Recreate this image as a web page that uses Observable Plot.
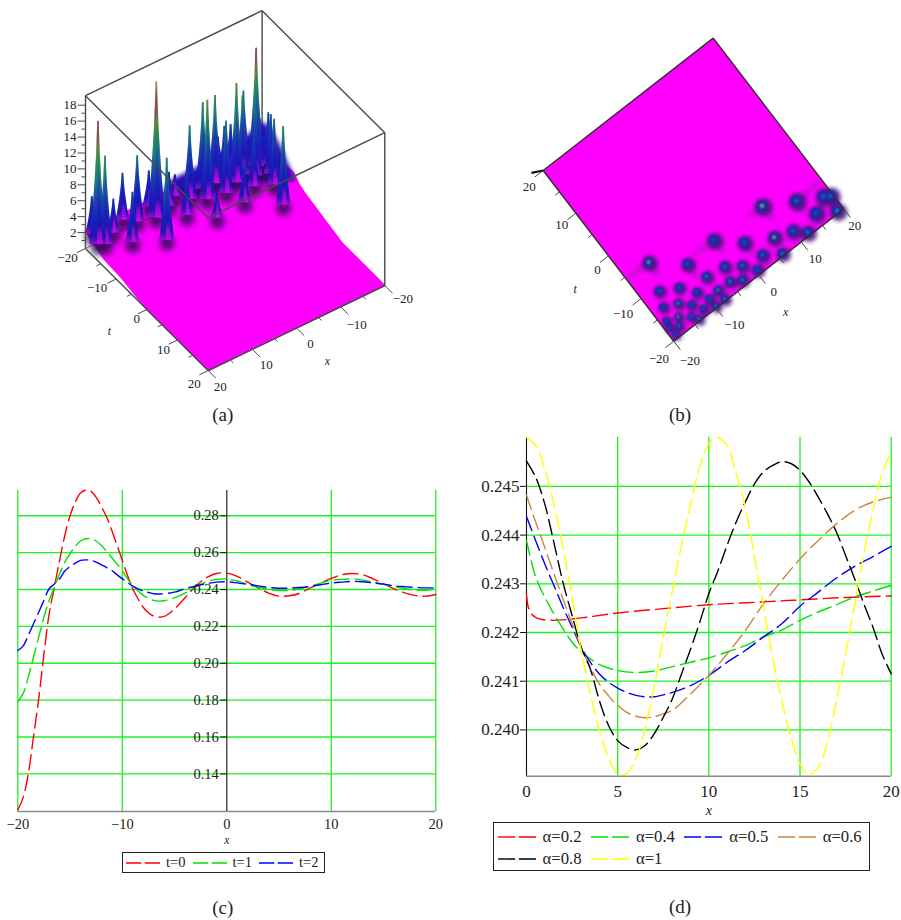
<!DOCTYPE html>
<html><head><meta charset="utf-8">
<script src="https://cdn.jsdelivr.net/npm/d3@7"></script>
<script src="https://cdn.jsdelivr.net/npm/@observablehq/plot@0.6"></script>
<style>
html,body{margin:0;background:#fff}
#page{position:relative;width:901px;height:920px;overflow:hidden;font-family:"Liberation Serif",serif;color:#222}
.fig{position:absolute}
.fig svg{display:block;background:transparent}
.cap{position:absolute;font-size:19px;transform:translateX(-50%)}
.legend{position:absolute;border:1px solid #222;box-sizing:border-box;background:#fff}
.legend .it{position:absolute;display:flex;align-items:center;height:18px}
.legend svg{display:block}
</style></head><body><div id="page"></div>
<script>
// ---------- panel (a)/(b): soliton peaks read from the top view and the 3D view
const peakX=[-14.8,-9.3,-2.7,1.5,8.3,13.9,19.5,18.4,6.5,15.4,10,18.8,12,5.9,2.8,-1.4,0.35,-4.1,-7.9,-13.2,-16.5,-11.1,-7.7,-5,-3,-17.7,-15.1,-13.3,-12,-10,-9.85,-7.7,-16.6,-18.8,-17.5,-14.7,-13.8,-19,-19.1];
const peakT=[-5.5,-10.2,-9.7,-13.5,-10.2,-13.35,-16.5,-15.8,-16.2,-17.4,-17.4,-19.5,-19.3,-19.5,-17.4,-16.7,-19,-14.8,-14.2,-12.7,-10.9,-15.4,-17.5,-17.6,-18.8,-13.7,-14.9,-16.6,-18.6,-17.8,-19.6,-19.6,-16.9,-16.1,-18.3,-18.3,-19.6,-19.2,-17.4];
const peakZ=[11.4,6.7,4.8,7,11.7,7.8,17,12.5,18.6,5.8,9.8,6.3,7.5,6,5.8,10.7,4.3,13.9,10.6,7.5,9.8,14,12.6,12.4,6,9,10,11.4,7.5,8,6,6,16.3,8,7,10.9,7,6,5];
// colour seen at each peak's core in the top view (same unit as height)
const peakCore=[11,5,4,5,12,6,6,6,11,5,6,8,7,7,6,7,5,6,7,5,5,5,9,8,8,5,9,6,6,6,8,8,15,6,8,7,9,7,6];
const rimX=[20,20,20,20,20,20,-20,-20,-20,-20,-20,-20,-20,-20,-20];
const rimT=[-20,-14,-8,0,20,20,20,6,3,0,-3,-6,-8,-9.8,-20];
const rimZ=[2.2,1,0.8,0,0,0,0,0,0.4,0.8,1.2,1.6,2,2.8,2.5];
// blue mass behind the peaks near the far corner
const ridgeX=[3,0,-5,-9.5,-14.8,-20,-20,-20,-20,-20,-14,-8,-2];
const ridgeT=[-20,-20,-20,-20,-20,-20,-17,-14,-11,-9,-13,-15,-17];
const ridgeZ=[2.2,3.5,3.5,3.9,4.1,5.3,5.5,4.5,3,2,2,2,2];
const axis3dTicks=[-20,-15,-10,-5,0,5,10,15,20];
const zTicks=d3.range(1,19);
const zLabels=[2,4,6,8,10,12,14,16,18];
const ZTOP=19.2, ZBASE=1.7;

// ---------- panel (c)
const cX=[-20,-19.5,-19,-18.5,-18,-17.5,-17,-16.5,-16,-15.5,-15,-14.5,-14,-13.5,-13,-12.5,-12,-11.5,-11,-10.5,-10,-9.5,-9,-8.5,-8,-7.5,-7,-6.5,-6,-5,-4,-3,-2,-1,0,1,2,3,4,5,6,7,8,9,10,11,12,13,14,15,16,17,18,19,20];
const cT0=[.1205,.127,.14,.16,.1807,.205,.2268,.2413,.2558,.2693,.28,.2874,.2923,.2939,.2932,.29,.285,.2793,.272,.2639,.2558,.2476,.2404,.235,.2304,.2274,.2256,.225,.2254,.2295,.2355,.2417,.2462,.2487,.2489,.2471,.244,.2409,.238,.2364,.2366,.238,.2409,.2435,.246,.248,.2487,.248,.2458,.2431,.2404,.2382,.2368,.2364,.2373];
const cT1=[.1792,.1834,.1925,.2033,.2142,.225,.2341,.2413,.2485,.2549,.2594,.2634,.2663,.2675,.2675,.2663,.2639,.2608,.2572,.2538,.2503,.2458,.2422,.2393,.2368,.2353,.2341,.2337,.2339,.2355,.238,.2413,.244,.2455,.2457,.2446,.2428,.2413,.2402,.2395,.2395,.2404,.2418,.2435,.2449,.2455,.2457,.2451,.244,.2428,.2417,.2404,.2398,.2396,.2402];
const cT2=[.2069,.2093,.2151,.2214,.2277,.2341,.2404,.243,.2458,.25,.2525,.2543,.2558,.2561,.2558,.2549,.2534,.2519,.2503,.248,.2458,.2438,.2418,.2404,.2391,.2384,.2377,.2376,.2377,.2386,.2404,.2418,.2431,.244,.2442,.2436,.2428,.242,.2411,.2407,.2407,.2411,.2417,.2426,.2435,.244,.2444,.2442,.2436,.2429,.242,.2415,.2411,.2409,.2409];
const cYTicks=[.14,.16,.18,.2,.22,.24,.26,.28];
const cXTicks=[-20,-10,0,10,20];
const cNames=["t=0","t=1","t=2"];
const cColors=["#ff0000","#00e000","#0000ff"];

// ---------- panel (d)
const dA2=[[0,.24279],[.1,.24252],[.3,.24237],[.6,.24229],[1,.24226],[1.5,.24225],[2,.24226],[3,.2423],[5,.2424],[7.5,.24249],[10,.24257],[12.5,.24262],[15,.24267],[17.5,.24272],[20,.24275]];
const dA4=[[0,.24389],[.5,.24314],[1,.24273],[1.5,.24238],[2,.24208],[2.5,.2418],[3,.2416],[3.5,.24146],[4,.24134],[5,.24122],[6,.24118],[7,.24121],[8,.2413],[9,.24139],[10,.24148],[11,.2416],[12,.24173],[13,.24191],[14,.24205],[15,.24225],[16,.24242],[17,.24257],[18,.24273],[19,.24285],[20,.24297]];
const dA5=[[0,.24438],[.5,.24389],[1,.24341],[1.5,.24297],[2,.24252],[2.5,.24211],[3,.2417],[3.5,.24139],[4,.24115],[4.5,.24098],[5,.24086],[5.5,.24077],[6,.24071],[6.5,.24068],[7,.24068],[7.5,.24072],[8,.24077],[9,.24091],[10,.24112],[11,.24139],[12,.24163],[13,.24191],[14,.24218],[15,.24254],[16,.24283],[17,.24312],[18,.24336],[19,.24356],[20,.24377]];
const dA6=[[0,.24482],[.5,.24427],[1,.24375],[1.5,.24321],[2,.24269],[2.5,.24218],[3,.2417],[3.5,.24129],[4,.24094],[4.5,.2407],[5,.2405],[5.5,.24036],[6,.24028],[6.5,.24025],[7,.24027],[7.5,.24033],[8,.2404],[9,.24074],[10,.24112],[11,.24156],[12,.24204],[13,.24259],[14,.24307],[15,.24351],[16,.24389],[17,.24423],[18,.24451],[19,.24468],[20,.24478]];
const dA8=[[0,.24552],[.5,.24519],[1,.24464],[1.5,.24385],[2,.24303],[2.5,.24235],[3,.2417],[3.5,.24125],[4,.2406],[4.5,.24009],[5,.23978],[5.5,.23964],[6,.23959],[6.5,.23968],[7,.23992],[7.5,.24026],[8,.24064],[8.5,.24115],[9,.24166],[9.5,.24221],[10,.2428],[10.5,.24327],[11,.24379],[11.5,.24427],[12,.24468],[12.5,.24505],[13,.2453],[13.5,.24543],[14,.24551],[14.5,.24547],[15,.24533],[15.5,.24509],[16,.24478],[16.5,.24444],[17,.24406],[17.5,.24358],[18,.2431],[18.5,.24259],[19,.24211],[19.5,.24156],[20,.24115]];
const dA10=[[0,.24601],[.5,.24584],[1,.24536],[1.5,.24464],[2,.24375],[2.5,.24273],[3,.24163],[3.5,.24074],[4,.23999],[4.5,.23944],[5,.2391],[5.5,.23911],[6,.23941],[6.5,.24002],[7,.24088],[7.5,.2419],[8,.24286],[8.5,.24379],[9,.24464],[9.5,.2454],[10,.24588],[10.4,.24601],[11,.24584],[11.5,.24526],[12,.24458],[12.5,.24355],[13,.24252],[13.5,.24149],[14,.2406],[14.5,.23985],[15,.2393],[15.5,.23908],[16,.23923],[16.5,.23975],[17,.2406],[17.5,.24156],[18,.24259],[18.5,.24362],[19,.24451],[19.5,.24526],[20,.24571]];
const dYTicks=[.24,.241,.242,.243,.244,.245];
const dXTicks=[0,5,10,15,20];
const dNames=["α=0.2","α=0.4","α=0.5","α=0.6","α=0.8","α=1"];
const dColors=["#ff0000","#00e000","#0000ff","#cd853f","#000000","#ffff00"];

const GRID="#20f020", FONT='"Liberation Serif",serif', DASH="15,6";
const minus=s=>String(s).replace("-","\u2212");
const page=document.getElementById("page");
function place(node,left,top){const d=document.createElement("div");d.className="fig";d.style.left=left+"px";d.style.top=top+"px";d.append(node);page.append(d);return node;}
function frame(w,h,marks,extra={}){return Plot.plot({width:w,height:h,margin:0,x:{domain:[0,w],range:[0,w],axis:null},y:{domain:[0,h],range:[0,h],axis:null},style:{fontFamily:FONT,background:"transparent",overflow:"visible"},marks,...extra});}
function blur(svg,cls,px){d3.select(svg).selectAll("."+cls).style("filter",`blur(${px}px)`);}
function seg(data,from,to,o={}){return Plot.link(data,{x1:d=>from(d)[0],y1:d=>from(d)[1],x2:d=>to(d)[0],y2:d=>to(d)[1],...o});}

const peaks=peakX.map((x,i)=>({x,t:peakT[i],z:peakZ[i],core:peakCore[i]}));

// ---------- (a) 3-D surface
const pa=(x,t,z=0)=>{const u=(t+20)/40,v=(20-x)/40;return [85+u*122.7+v*176.6,248+u*122-v*85-z*7.96];};
const rim=rimX.map((x,i)=>pa(x,rimT[i],rimZ[i]));
const ridge=ridgeX.map((x,i)=>pa(x,ridgeT[i],ridgeZ[i]));
const bands=[];
for(const p of [...peaks].sort((a,b)=>pa(a.x,a.t)[1]-pa(b.x,b.t)[1])){
  const [sx,sy]=pa(p.x,p.t);
  const wide=4+0.2*p.z;
  for(let h=ZBASE;h<p.z;h+=0.2){
    const f=(h-ZBASE)/(p.z-ZBASE);
    const w=0.9+wide*Math.pow(1-f,1.55);
    bands.push({x1:sx-w,x2:sx+w,y1:sy-(h+0.28)*7.96,y2:sy-h*7.96,h:h+0.4});
    bands.push({x1:sx-w*.12,x2:sx+w*.55,y1:sy-(h+0.28)*7.96,y2:sy-h*7.96,h:h-0.9});
  }
}
const heightColor={type:"linear",domain:[0,2,3,5,8,10,12,13.5,15.5,17.5,19],range:["#ff00ff","#9010d0","#2014b0","#1a20c0","#1a4fa0","#1f7c80","#2a8a55","#6a8a3a","#85405a","#97703f","#b8a868"],clamp:true};
const edge=(a,b)=>({a,b});
const E={lb:[20,-20,0],fb:[20,20,0],rb:[-20,20,0],bb:[-20,-20,0],lt:[20,-20,ZTOP],ft:[20,20,ZTOP],rt:[-20,20,ZTOP],bt:[-20,-20,ZTOP]};
const boxFront=[edge("lb","lt"),edge("lt","bt"),edge("bt","rt"),edge("rt","ft"),edge("ft","lt"),edge("rb","rt"),edge("lb","fb"),edge("fb","rb")];
const boxBack=[edge("bb","bt")];
const boxFaint=[edge("lb","bb")];
const paE=k=>pa(...E[k]);
const STK="#4a4a4a";
const labelsA=[
 ...[[-20,-18,9],[-10,-19,9],[0,-10,9],[10,-14,10],[20,-14,13]].map(([t,dx,dy])=>Plot.text([t],{x:t=>pa(20,t)[0],y:t=>pa(20,t)[1],text:minus,dx,dy,fontSize:13,fill:"#222"})),
 ...[[20,12,16],[10,14,16],[0,14,16],[-10,16,18],[-20,18,13]].map(([x,dx,dy])=>Plot.text([x],{x:x=>pa(x,20)[0],y:x=>pa(x,20)[1],text:minus,dx,dy,fontSize:13,fill:"#222"})),
 Plot.text(zLabels,{x:z=>pa(20,-20,z)[0],y:z=>pa(20,-20,z)[1],text:String,dx:-9,textAnchor:"end",fontSize:13,fill:"#222"}),
 Plot.text(["t"],{x:()=>pa(20,1.5)[0],y:()=>pa(20,1.5)[1],dx:-42,dy:17,fontStyle:"italic",fontSize:12,fill:"#222"}),
 Plot.text(["x"],{x:()=>pa(-2,20)[0],y:()=>pa(-2,20)[1],dx:22,dy:37,fontStyle:"italic",fontSize:12,fill:"#222"})
];
const svgA=frame(450,430,[
 seg(boxBack,e=>paE(e.a),e=>paE(e.b),{stroke:STK,strokeWidth:1.4}),
 Plot.line(rim,{x:d=>d[0],y:d=>d[1],fill:"#ff00ff",stroke:"#ff00ff",className:"sheet"}),
 seg(boxFaint,e=>paE(e.a),e=>paE(e.b),{stroke:"#5a1a6a",strokeWidth:1,strokeOpacity:.6}),
 Plot.line(ridge,{x:d=>d[0],y:d=>d[1],fill:"#2a10b0",className:"ridge"}),
 Plot.dot(peaks,{x:d=>pa(d.x,d.t,ZBASE)[0],y:d=>pa(d.x,d.t,ZBASE)[1],dy:3,r:7.5,fill:"#2c0c58",fillOpacity:.85,className:"shadow"}),
 Plot.rect(bands,{x1:"x1",x2:"x2",y1:"y1",y2:"y2",fill:"h",className:"spikes"}),
 seg(boxFront,e=>paE(e.a),e=>paE(e.b),{stroke:STK,strokeWidth:1.4}),
 seg(axis3dTicks,t=>pa(20,t),t=>pa(t%10?21:22,t),{stroke:STK,strokeWidth:1}),
 seg(axis3dTicks,x=>pa(x,20),x=>pa(x,x%10?21:22.5),{stroke:STK,strokeWidth:1}),
 seg(zTicks,z=>pa(20,-20,z),z=>{const q=pa(20,-20,z);return [q[0]-(z%2?4:8),q[1]];},{stroke:STK,strokeWidth:1}),
 ...labelsA
],{color:heightColor});
place(svgA,0,0);
blur(svgA,"shadow",3);blur(svgA,"spikes",.7);blur(svgA,"ridge",2);

// ---------- (b) top view
const pb=(x,t)=>{const a=(x+20)/40,c=(t+20)/40;return [673.3-500+a*170-c*130.6,340.7+a*(-132.4)-c*170.7];};
const sizeOf=d=>3.2+0.42*Math.min(8,(d.t+20)*0.35+(d.x+20)*0.18);
const poly=[[-20,-20],[20,-20],[20,20],[-20,20]].map(([x,t])=>pb(x,t));
const streaks=[[-19.6,-5.5,-14.8,-5.5],[8.3,-13.6,8.3,-10.2],[-14.8,-9,-14.8,-5.5],[13.9,-13.35,19.5,-13.35],[-2.7,-13,-2.7,-9.7],[-9.3,-13.5,-9.3,-10.2],[1.5,-16.5,1.5,-13.5],[5,-10.2,8.3,-10.2],[-7,-9.7,-2.7,-9.7],[13.9,-16,13.9,-13.35]];
const svgB=frame(401,430,[
 Plot.line(poly,{x:d=>d[0],y:d=>d[1],fill:"#ff00ff"}),
 seg(streaks,s=>pb(s[0],s[1]),s=>pb(s[2],s[3]),{stroke:"#a01cb4",strokeWidth:5,strokeOpacity:.6,className:"streaks"}),
 Plot.dot(peaks,{x:d=>pb(d.x,d.t)[0],y:d=>pb(d.x,d.t)[1],dx:1.5,dy:1.5,r:d=>sizeOf(d)*1.4,fill:"#461480",fillOpacity:.9,className:"halo"}),
 Plot.dot(peaks,{x:d=>pb(d.x,d.t)[0],y:d=>pb(d.x,d.t)[1],r:d=>sizeOf(d)*.85,fill:"#1c2aa8",className:"body"}),
 Plot.dot(peaks,{x:d=>pb(d.x,d.t)[0],y:d=>pb(d.x,d.t)[1],r:d=>Math.max(1.1,sizeOf(d)*.3),fill:"core",fillOpacity:.85,className:"core"}),
 seg([[0,1],[1,2],[2,3],[3,0]],e=>poly[e[0]],e=>poly[e[1]],{stroke:"#3a2a3a",strokeWidth:1.5}),
 seg([0],()=>pb(-20,20),()=>pb(-22,21),{stroke:"#111",strokeWidth:2.2}),
 seg(axis3dTicks,t=>pb(-20,t),t=>pb(t%10?-21:-22,t),{stroke:STK,strokeWidth:1}),
 seg(axis3dTicks,x=>pb(x,-20),x=>pb(x,x%10?-21:-22),{stroke:STK,strokeWidth:1}),
 ...[[20,-14,16],[10,-14,12],[0,-11,14],[-10,-18,15],[-20,-15,18]].map(([t,dx,dy])=>Plot.text([t],{x:t=>pb(-20,t)[0],y:t=>pb(-20,t)[1],text:minus,dx,dy,fontSize:13,fill:"#222"})),
 ...[[-20,16,20],[-10,18,17],[0,15,17],[10,14,17],[20,11,17]].map(([x,dx,dy])=>Plot.text([x],{x:x=>pb(x,-20)[0],y:x=>pb(x,-20)[1],text:minus,dx,dy,fontSize:13,fill:"#222"})),
 Plot.text(["t"],{x:()=>pb(-20,-3)[0],y:()=>pb(-20,-3)[1],dx:-43,dy:21,fontStyle:"italic",fontSize:12,fill:"#222"}),
 Plot.text(["x"],{x:()=>pb(3,-20)[0],y:()=>pb(3,-20)[1],dx:14,dy:47,fontStyle:"italic",fontSize:12,fill:"#222"})
],{r:{type:"identity"},color:{type:"linear",domain:[4,6,8,11,15],range:["#2438e0","#2a60d8","#20b0c0","#a0d870","#f0a040"],clamp:true}});
place(svgB,500,0);
blur(svgB,"halo",2.2);blur(svgB,"streaks",2.2);blur(svgB,"body",1);blur(svgB,"core",1);

// ---------- shared 2-D chart
function chart2d({W,H,left,right,top,bottom,xDom,yDom,xTicks,yTicks,series,tickDx,fmt,xGrid,xLab,fs,tickDy,labDy}){
  const xUnit=(xDom[1]-xDom[0])/(W-left-right);
  return Plot.plot({width:W,height:H,marginLeft:left,marginRight:right,marginTop:top,marginBottom:bottom,
    style:{fontFamily:FONT,background:"transparent",overflow:"visible"},
    x:{domain:xDom,axis:null},y:{domain:yDom,axis:null},
    marks:[
      Plot.ruleY(yTicks,{stroke:GRID,strokeWidth:1.3}),
      Plot.ruleX(xGrid,{stroke:GRID,strokeWidth:1.3}),
      Plot.ruleY([yDom[0]],{stroke:"#8a8a8a",strokeWidth:1.5}),
      Plot.ruleX([0],{stroke:"#111",strokeWidth:1.1}),
      Plot.ruleY(yTicks,{x1:-6*xUnit,x2:0,stroke:"#111"}),
      ...series.map(s=>Plot.line(s.pts,{x:d=>d[0],y:d=>d[1],stroke:s.color,strokeWidth:1.4,strokeDasharray:DASH,curve:"catmull-rom"})),
      Plot.text(yTicks,{x:()=>0,y:d=>d,text:fmt,dx:tickDx,textAnchor:"end",fontSize:fs,fill:"#222"}),
      Plot.text(xTicks,{x:d=>d,y:()=>yDom[0],text:minus,dy:tickDy,fontSize:fs,fill:"#222"}),
      Plot.text(["x"],{x:()=>xLab,y:()=>yDom[0],dy:labDy,fontStyle:"italic",fontSize:fs-3,fill:"#222"})
    ]});
}
const zip=(xs,ys)=>xs.map((x,i)=>[x,ys[i]]);
place(chart2d({W:450,H:380,left:17.3,right:14.7,top:10,bottom:49,xDom:[-20,20],yDom:[.1196,.2937],xTicks:cXTicks,yTicks:cYTicks,
  series:[cT0,cT1,cT2].map((ys,i)=>({pts:zip(cX,ys),color:cColors[i]})),tickDx:-8,fmt:d=>d.toFixed(2),xGrid:[-20,-10,10,20],xLab:0,fs:14.5,tickDy:13,labDy:29}),0,480);
place(chart2d({W:421,H:390,left:46,right:10.3,top:6.7,bottom:44.3,xDom:[0,20],yDom:[.23905,.24601],xTicks:dXTicks,yTicks:dYTicks,
  series:[dA2,dA4,dA5,dA6,dA8,dA10].map((pts,i)=>({pts,color:dColors[i]})),tickDx:-7,fmt:d=>d.toFixed(3),xGrid:[5,10,15,20],xLab:10,fs:17,tickDy:15,labDy:34}),480,430);

// ---------- legends and captions
function legend(left,top,w,h,fs,items){
  const box=document.createElement("div");box.className="legend";
  Object.assign(box.style,{left:left+"px",top:top+"px",width:w+"px",height:h+"px",fontSize:fs+"px"});
  for(const it of items){
    const row=document.createElement("div");row.className="it";row.style.left=it.l+"px";row.style.top=it.t+"px";
    row.innerHTML=`<svg width="${it.s}" height="6"><line x1="0" x2="${it.s}" y1="3" y2="3" stroke="${it.color}" stroke-width="1.4" stroke-dasharray="${it.s*0.45},${it.s*0.1}"/></svg><span style="margin-left:${it.g}px">${it.name}</span>`;
    box.append(row);
  }
  page.append(box);
}
legend(122,852,203,21,14.5,cNames.map((name,i)=>({name,color:cColors[i],l:3+i*66.5,t:0.5,s:34,g:6})));
legend(493,822,377,49,16.7,dNames.map((name,i)=>({name,color:dColors[i],l:3.5+(i%4)*93.4,t:i<4?5:27,s:38,g:7})));
[["(a)",222.7,404],["(b)",680,404],["(c)",222.7,897],["(d)",680,896]].forEach(([t,x,y])=>{
  const c=document.createElement("div");c.className="cap";c.textContent=t;c.style.left=x+"px";c.style.top=y+"px";page.append(c);
});
</script></body></html>
